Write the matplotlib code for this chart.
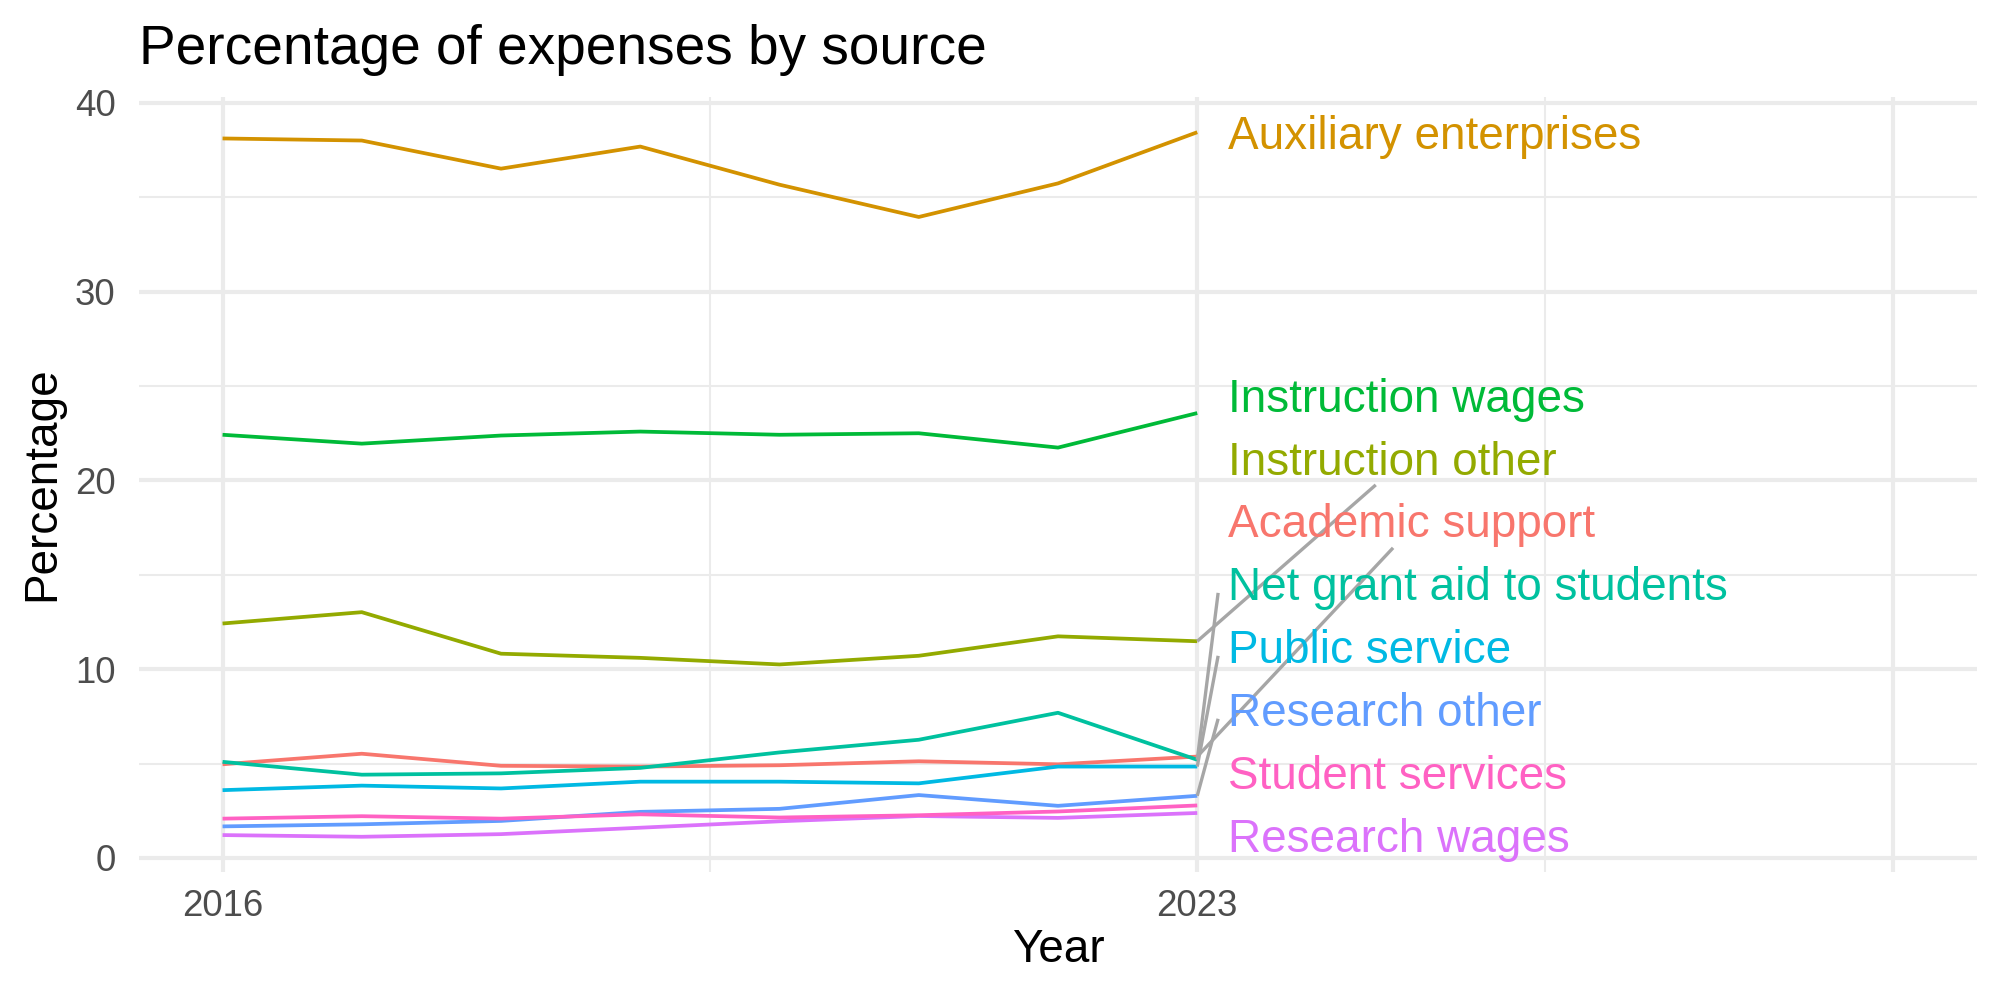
import numpy as np
import matplotlib
matplotlib.use("Agg")
import matplotlib.pyplot as plt

plt.rcParams['font.family'] = ['Liberation Sans', 'DejaVu Sans']

# data
years = [2016, 2017, 2018, 2019, 2020, 2021, 2022, 2023]
sources = ["Academic support", "Auxiliary enterprises", "Instruction other",
           "Instruction wages", "Net grant aid to students", "Public service",
           "Research other", "Research wages", "Student services"]
academic_support = [4.96, 5.52, 4.88, 4.84, 4.91, 5.12, 4.96, 5.37]
auxiliary_enterprises = [38.12, 38.01, 36.52, 37.69, 35.67, 33.96, 35.74, 38.45]
instruction_other = [12.42, 13.02, 10.82, 10.60, 10.25, 10.71, 11.74, 11.48]
instruction_wages = [22.42, 21.95, 22.38, 22.59, 22.42, 22.50, 21.74, 23.57]
net_grant_aid = [5.09, 4.41, 4.48, 4.77, 5.59, 6.26, 7.69, 5.20]
public_service = [3.59, 3.83, 3.68, 4.04, 4.04, 3.95, 4.84, 4.84]
research_other = [1.67, 1.78, 1.96, 2.44, 2.60, 3.33, 2.76, 3.29]
research_wages = [1.21, 1.12, 1.26, 1.60, 1.94, 2.22, 2.12, 2.38]
student_services = [2.08, 2.21, 2.08, 2.31, 2.14, 2.26, 2.46, 2.78]

series = [academic_support, auxiliary_enterprises, instruction_other,
          instruction_wages, net_grant_aid, public_service,
          research_other, research_wages, student_services]

# ggplot default hue palette, 9 levels
colors = ["#F8766D", "#D39200", "#93AA00", "#00BA38", "#00C19F",
          "#00B9E3", "#619CFF", "#DB72FB", "#FF61C3"]

x_room = 2028          # x scale extended for the labels
label_x = 2023.22
label_top, label_bottom = 24.55, 1.2
bottom_anchored = ["Instruction other", "Academic support"]

fig = plt.figure(figsize=(10, 5), dpi=200)
ax = fig.add_axes([139/2000, 1-872/1000, (1977-139)/2000, (872-97)/1000])

# scales with ggplot-like 5% expansion
allv = np.concatenate(series)
ypad = 0.05*(allv.max()-allv.min())
ax.set_ylim(allv.min()-ypad, allv.max()+ypad)
xpad = 0.05*(x_room-years[0])
ax.set_xlim(years[0]-xpad, x_room+xpad)

# grid, theme_minimal style
for v in [5, 15, 25, 35]:
	ax.axhline(v, color="#EBEBEB", lw=0.75, zorder=0)
for v in [0, 10, 20, 30, 40]:
	ax.axhline(v, color="#EBEBEB", lw=1.5, zorder=0)
for v in [2019.5, 2025.5]:
	ax.axvline(v, color="#EBEBEB", lw=0.75, zorder=0)
for v in [2016, 2023, 2028]:
	ax.axvline(v, color="#EBEBEB", lw=1.5, zorder=0)

for vals, c in zip(series, colors):
	ax.plot(years, vals, color=c, lw=1.35, solid_capstyle="butt", zorder=2)

# labels: the Auxiliary label sits at its own end value, the others are stacked
ends = [s[-1] for s in series]
aux = sources.index("Auxiliary enterprises")
rest = [i for i in np.argsort(ends)[::-1] if i != aux]
label_y = dict(zip(rest, np.linspace(label_top, label_bottom, len(rest))))
label_y[aux] = ends[aux]

fig.canvas.draw()
renderer = fig.canvas.get_renderer()
inv = ax.transData.inverted()
for i, name in enumerate(sources):
	ly = label_y[i]
	t = ax.text(label_x, ly, name, color=colors[i], fontsize=16.5, ha="left",
		va="center_baseline", zorder=3)
	if abs(ly - ends[i]) < 2:
		continue
	bb = t.get_window_extent(renderer)
	(x0, y0), (x1, y1) = inv.transform([[bb.x0, bb.y0], [bb.x1, bb.y1]])
	if name in bottom_anchored:
		tip = (x0 + 0.45*(x1-x0), ly - 1.45)
	else:
		tip = (label_x - 0.07, ly - 0.5)
	ax.plot([years[-1], tip[0]], [ends[i], tip[1]], color="#A6A6A6", lw=1.2,
		solid_capstyle="butt", zorder=2.5)

ax.set_yticks([0, 10, 20, 30, 40])
ax.set_xticks([2016, 2023, 2028])
ax.set_xticklabels(["2016", "2023", ""])
ax.tick_params(length=0, labelsize=13.2, labelcolor="#4D4D4D")
ax.tick_params(axis="y", pad=8.5)
ax.tick_params(axis="x", pad=6)
for s in ax.spines.values():
	s.set_visible(False)

fig.text(139/2000, 1-64/1000, "Percentage of expenses by source", fontsize=19.8,
	ha="left", va="baseline")
fig.text((139+1977)/4000, 1-950/1000, "Year", fontsize=16.5, ha="center", va="center")
fig.text(42/2000, 1-484/1000, "Percentage", fontsize=16.5, rotation=90,
	ha="center", va="center")

plt.savefig("out.png", dpi=200)
